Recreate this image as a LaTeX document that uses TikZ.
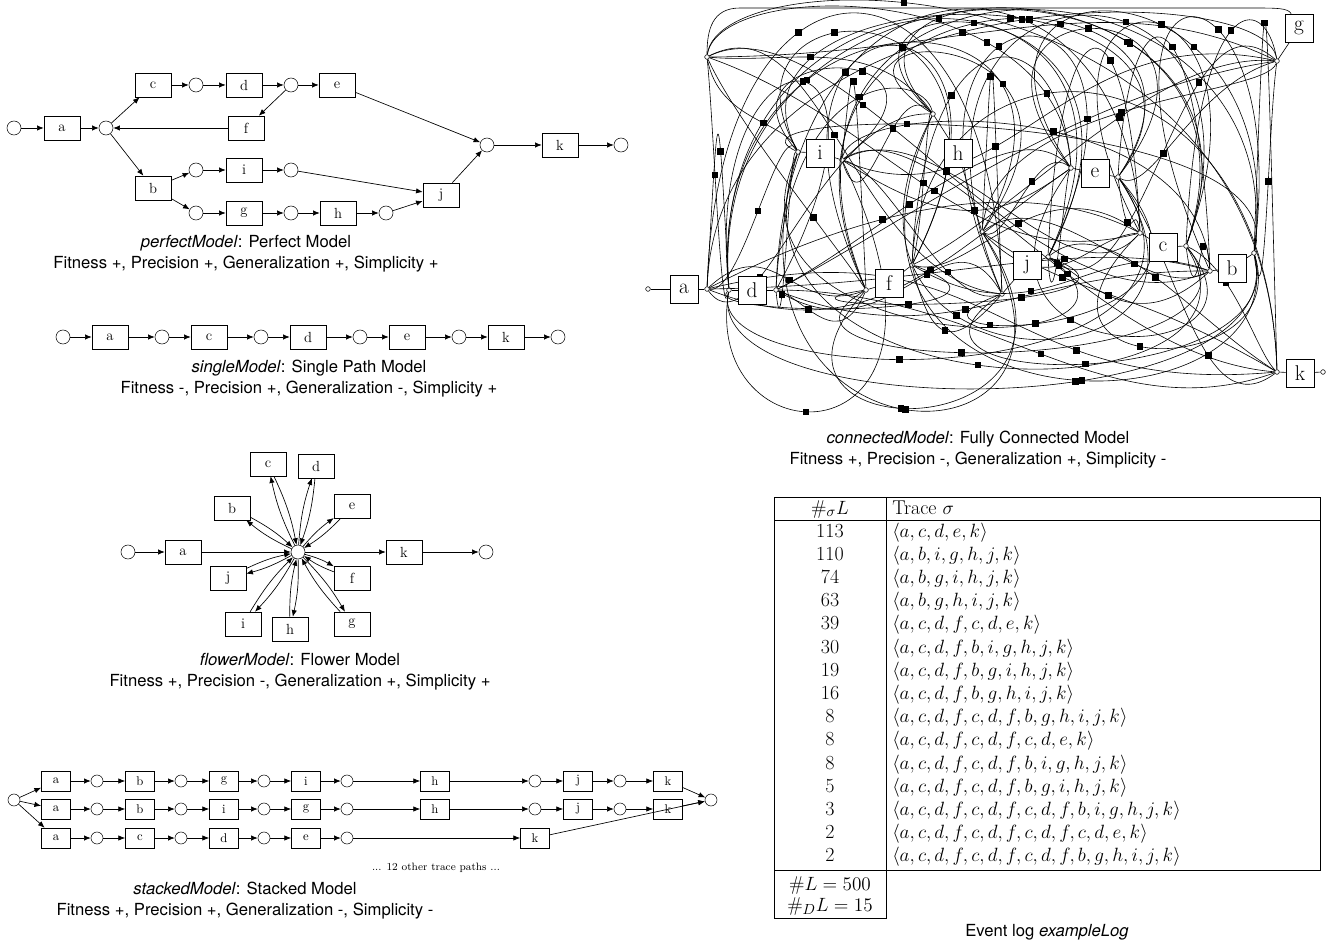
\documentclass[tikz,border=0pt]{standalone}
\usepackage{fontspec}
\newfontfamily\capfont{TeX Gyre Heros}
\usetikzlibrary{arrows.meta}

\tikzset{
  trans/.style={draw, rectangle, minimum width=27pt, minimum height=18pt, inner sep=0pt, font=\fontsize{11}{11}\selectfont},
  strans/.style={trans, minimum width=22pt, minimum height=15pt, font=\fontsize{9.5}{9.5}\selectfont},
  place/.style={draw, circle, minimum size=10.5pt, inner sep=0pt},
  splace/.style={place, minimum size=9pt},
  flow/.style={-{Latex[length=5pt,width=4pt]}, line width=0.5pt},
  caption/.style={font=\capfont\fontsize{12.5}{15.75}\selectfont, align=center},
  bigtrans/.style={draw, rectangle, fill=white, minimum size=21pt, inner sep=0pt, font=\fontsize{16}{16}\selectfont},
  hub/.style={draw, circle, minimum size=3.5pt, inner sep=0pt, fill=white, line width=0.4pt},
  tau/.style={fill=black, rectangle, minimum size=5pt, inner sep=0pt},
  link/.style={line width=0.45pt},
  cell/.style={font=\fontsize{15}{15}\selectfont, inner sep=0pt},
}

% one row of the stacked model: style/label/x, chained with arcs
\newcommand\stackrow[3]{%
  \foreach \st/\l/\x [count=\k] in {#3} {
    \node[\st] (r#1n\k) at (\x,#2) {\l};
    \ifnum\k>1
      \pgfmathtruncatemacro\j{\k-1}
      \draw[flow] (r#1n\j) -- (r#1n\k);
    \fi
  }}

\begin{document}
\begin{tikzpicture}[x=0.75pt, y=-0.75pt]
\useasboundingbox (0,0) rectangle (1336,941);

% perfect model
\node[place] (pp0) at (14,128) {};
\node[trans] (pa) at (62,128) {a};
\node[place] (pp1) at (106,128) {};
\node[trans] (pc) at (153,85) {c};
\node[place] (pp2) at (196,85) {};
\node[trans] (pd) at (244,85) {d};
\node[place] (pp3) at (291,85) {};
\node[trans] (pe) at (337,85) {e};
\node[trans] (pf) at (246,128) {f};
\node[trans] (pb) at (153,188) {b};
\node[place] (pp4) at (196,170) {};
\node[trans] (pi) at (244,170) {i};
\node[place] (pp5) at (291,170) {};
\node[place] (pp6) at (196,213) {};
\node[trans] (pg) at (244,213) {g};
\node[place] (pp7) at (291,213) {};
\node[trans] (ph) at (338,213) {h};
\node[place] (pp8) at (386,213) {};
\node[trans] (pj) at (441,195) {j};
\node[place] (pp9) at (487,145) {};
\node[trans] (pk) at (560,145) {k};
\node[place] (pp10) at (621,145) {};
\foreach \s/\t in {pp0/pa, pa/pp1, pp1/pc, pc/pp2, pp2/pd, pd/pp3, pp3/pe, pp3/pf, pf/pp1,
    pp1/pb, pb/pp4, pb/pp6, pp4/pi, pi/pp5, pp6/pg, pg/pp7, pp7/ph, ph/pp8,
    pp5/pj, pp8/pj, pe/pp9, pj/pp9, pp9/pk, pk/pp10}
  \draw[flow] (\s) -- (\t);
\node[caption] (pcap) at (246,253.5) {\textit{perfectModel}: Perfect Model\\Fitness +, Precision +, Generalization +, Simplicity +};

% single path model
\node[place] (s0) at (63,337) {};
\foreach \l [count=\k] in {a,c,d,e,k} {
  \node[trans] (s\l) at ({110+99*(\k-1)},337) {\l};
  \node[place] (s\k) at ({162+99*(\k-1)},337) {};
}
\foreach \s/\t in {s0/sa, sa/s1, s1/sc, sc/s2, s2/sd, sd/s3, s3/se, se/s4, s4/sk, sk/s5}
  \draw[flow] (\s) -- (\t);
\node[caption] (scap) at (309,379) {\textit{singleModel}: Single Path Model\\Fitness -, Precision +, Generalization -, Simplicity +};

% flower model
\node[place] (fhub) at (298,552) {};
\node[place] (fp0) at (128,552) {};
\node[trans] (fa) at (183,552) {a};
\node[trans] (fk) at (404,552) {k};
\node[place] (fp1) at (486,552) {};
\foreach \s/\t in {fp0/fa, fa/fhub, fhub/fk, fk/fp1}
  \draw[flow] (\s) -- (\t);
\foreach \l/\x/\y in {c/268/464, d/316/466, b/232/508, e/352/506, j/228/578, f/352/578, i/243/624, h/290/629, g/352/624} {
  \node[trans] (f\l) at (\x,\y) {\l};
  \draw[flow] (fhub) to[bend left=7] (f\l);
  \draw[flow] (f\l) to[bend left=7] (fhub);
}
\node[caption] (fcap) at (300,671.5) {\textit{flowerModel}: Flower Model\\Fitness +, Precision -, Generalization +, Simplicity +};

% stacked model
\node[splace] (k0) at (14,800) {};
\node[splace] (k1) at (711,800) {};
\stackrow{1}{781}{strans/a/56, splace//97, strans/b/140, splace//181, strans/g/224, splace//264, strans/i/306, splace//347, strans/h/435, splace//535, strans/j/578, splace//620, strans/k/668}
\stackrow{2}{809}{strans/a/56, splace//97, strans/b/140, splace//181, strans/i/224, splace//264, strans/g/306, splace//347, strans/h/435, splace//535, strans/j/578, splace//620, strans/k/668}
\stackrow{3}{838}{strans/a/56, splace//97, strans/c/140, splace//181, strans/d/224, splace//264, strans/e/306, splace//347, strans/k/535}
\draw[flow] (k0) -- (r1n1);
\draw[flow] (k0) -- (r2n1);
\draw[flow] (k0) -- (r3n1);
\draw[flow] (r1n13) -- (k1);
\draw[flow] (r2n13) -- (k1);
\draw[flow] (r3n9) -- (k1);
\node[font=\fontsize{8}{8}\selectfont] (more) at (436,868) {... 12 other trace paths ...};
\node[caption] (kcap) at (245,900.5) {\textit{stackedModel}: Stacked Model\\Fitness +, Precision +, Generalization -, Simplicity -};

% fully connected model
\foreach \h/\x/\y in {a0/648/289, a1/707/289, g1/707/57, d0/729/290, d1/776/290, i0/798/152, i1/842/160,
    h0/933/114, h1/982/232, f0/866/290, f1/912/265, j0/1002/294, j1/1048/257, e0/1071/168, e1/1118/177,
    c0/1140/233, c1/1186/246, b0/1210/271, b1/1254/253, g0/1277/61, k0/1277/372, k1/1323/372}
  \node[hub] (c\h) at (\x,\y) {};
% every output place to every input place through a silent step
\foreach \src/\sx/\sy [count=\m] in {a1/707/289, g1/707/57, d1/776/290, i1/842/160, h1/982/232,
    f1/912/265, j1/1048/257, e1/1118/177, c1/1186/246, b1/1254/253} {
  \foreach \dst/\tx/\ty [count=\n] in {d0/729/290, i0/798/152, h0/933/114, f0/866/290, j0/1002/294,
      e0/1071/168, c0/1140/233, b0/1210/271, g0/1277/61, k0/1277/372} {
    \pgfmathsetmacro\ra{mod(37*\m+53*\n+5,97)/97}
    \pgfmathsetmacro\rb{mod(61*\m+29*\n+17,89)/89}
    \pgfmathsetmacro\rc{mod(23*\m+71*\n+3,83)/83}
    \pgfmathsetmacro\rd{mod(47*\m+13*\n+31,79)/79}
    \pgfmathsetmacro\ps{0.3+0.4*mod(19*\m+41*\n+7,73)/73}
    \pgfmathtruncatemacro\mode{ifthenelse(\tx>\sx+15, ifthenelse(mod(5*\m+7*\n,4)==0, 2, 1), 0)}
    \pgfmathtruncatemacro\side{mod(11*\m+17*\n,2)}
    \pgfmathsetmacro\pk{ifthenelse(\side==0, 10+130*\ra*\ra, 410-130*\ra*\ra)}
    \pgfmathsetmacro\yy{(\pk-(\sy+\ty)/8)/0.75}
    \ifcase\mode
      % back to an earlier step: a wide arch over the top or under the bottom
      \pgfmathsetmacro\cxa{min(\sx+150,1295)}
      \pgfmathsetmacro\cxb{max(\tx-150,700)}
      \draw[link] (c\src) .. controls (\cxa,\yy) and (\cxb,\yy) .. (c\dst) node[tau, pos=\ps] {};
    \or
      \pgfmathsetmacro\dx{\tx-\sx}
      \draw[link] (c\src) .. controls ({\sx+\dx*(0.2+0.35*\ra)},{\sy+(\rb-0.5)*190})
        and ({\tx-\dx*(0.2+0.35*\rc)},{\ty+(\rd-0.5)*190}) .. (c\dst) node[tau, pos=\ps] {};
    \or
      % forward, along the frame
      \draw[link] (c\src) .. controls (\sx+12,\yy) and (\tx-12,\yy) .. (c\dst) node[tau, pos=\ps] {};
    \fi
  }
}
\foreach \t/\x/\y in {a/684/289, d/752/290, i/820/153, h/958/153, f/889/283, j/1027/265,
    e/1095/173, c/1163/247, b/1232/268, g/1299/28, k/1300/373}
  \node[bigtrans] (c\t) at (\x,\y) {\t};
\foreach \t in {a,d,i,h,f,j,e,c,b,k}
  \draw[link] (c\t0) -- (c\t) -- (c\t1);
\draw[link] (cg0) -- (cg);
\draw[link] (cg) .. controls (1288,8) and (1278,8) .. (1250,8) -- (740,8) .. controls (712,8) and (707,30) .. (cg1);
\node[caption] (ccap) at (978,449.5) {\textit{connectedModel}: Fully Connected Model\\Fitness +, Precision -, Generalization +, Simplicity -};

% event log table
\draw[link] (774,497) rectangle (1320,870);
\draw[link] (774,520) -- (1320,520);
\draw[link] (886,497) -- (886,918) -- (774,918) -- (774,870);
\node[cell, anchor=base] (hc) at (830,514) {$\#_\sigma L$};
\node[cell, anchor=base west] (ht) at (892,514) {Trace $\sigma$};
\foreach \cnt/\tr [count=\k] in {113/{a,c,d,e,k}, 110/{a,b,i,g,h,j,k}, 74/{a,b,g,i,h,j,k}, 63/{a,b,g,h,i,j,k},
    39/{a,c,d,f,c,d,e,k}, 30/{a,c,d,f,b,i,g,h,j,k}, 19/{a,c,d,f,b,g,i,h,j,k}, 16/{a,c,d,f,b,g,h,i,j,k},
    8/{a,c,d,f,c,d,f,b,g,h,i,j,k}, 8/{a,c,d,f,c,d,f,c,d,e,k}, 8/{a,c,d,f,c,d,f,b,i,g,h,j,k},
    5/{a,c,d,f,c,d,f,b,g,i,h,j,k}, 3/{a,c,d,f,c,d,f,c,d,f,b,i,g,h,j,k}, 2/{a,c,d,f,c,d,f,c,d,f,c,d,e,k},
    2/{a,c,d,f,c,d,f,c,d,f,b,g,h,i,j,k}} {
  \node[cell, anchor=base] (n\k) at (830,{537+23.2*(\k-1)}) {\cnt};
  \node[cell, anchor=base west] (t\k) at (892,{537+23.2*(\k-1)}) {$\langle \tr \rangle$};
}
\node[cell, anchor=base] (tl) at (830,890) {$\#L = 500$};
\node[cell, anchor=base] (td) at (830,911) {$\#_D L = 15$};
\node[caption] (lcap) at (1047,932) {Event log \textit{exampleLog}};
\end{tikzpicture}
\end{document}
